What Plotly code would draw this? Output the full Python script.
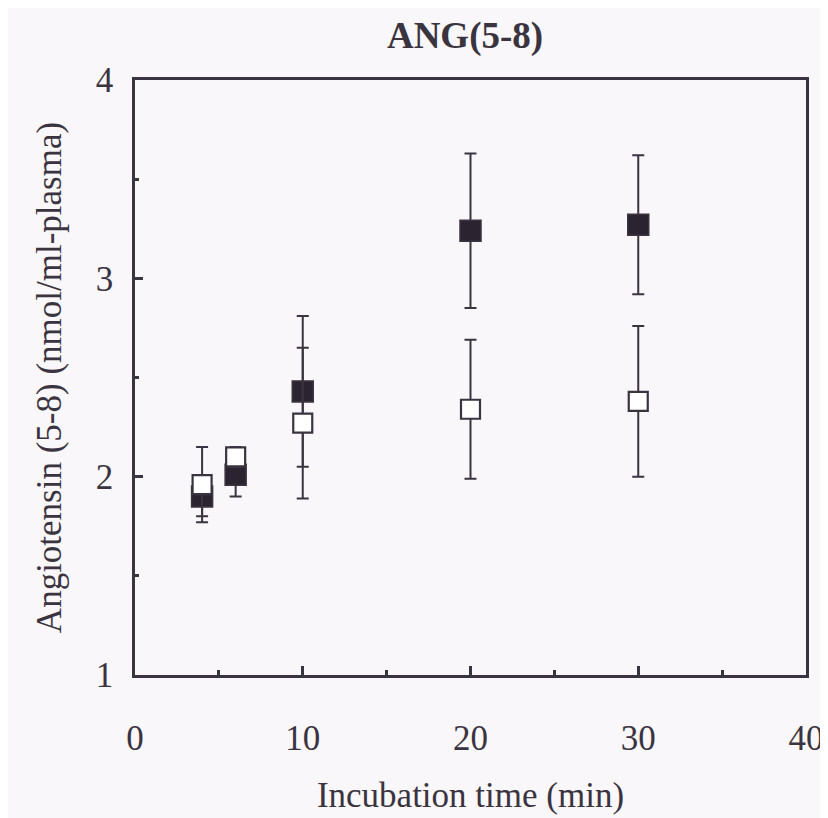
import plotly.graph_objects as go

# Data
time_min = [4, 6, 10, 20, 30]
filled_vals = [1.90, 2.01, 2.43, 3.24, 3.27]
filled_err = [0.10, 0.11, 0.38, 0.39, 0.35]
open_vals = [1.96, 2.10, 2.27, 2.34, 2.38]
open_err = [0.19, 0.05, 0.38, 0.35, 0.38]

x_tickvals = [0, 10, 20, 30, 40]
x_ticktext = ["0", "10", "20", "30", "40"]
y_tickvals = [1, 2, 3, 4]
y_ticktext = ["1", "2", "3", "4"]

INK = "#3a3440"
BG = "#f9f7f9"
FONT = '"Liberation Serif", "Times New Roman", Times, serif'

fig = go.Figure()

fig.add_trace(go.Scatter(
    x=time_min, y=filled_vals, mode="markers",
    marker=dict(symbol="square", size=21, color="#2b2430",
                line=dict(color=INK, width=1.5)),
    error_y=dict(type="data", array=filled_err, visible=True,
                 color=INK, thickness=2, width=6),
    showlegend=False, cliponaxis=False,
))
fig.add_trace(go.Scatter(
    x=time_min, y=open_vals, mode="markers",
    marker=dict(symbol="square", size=19, color="white",
                line=dict(color=INK, width=2.2)),
    error_y=dict(type="data", array=open_err, visible=True,
                 color=INK, thickness=2, width=6),
    showlegend=False, cliponaxis=False,
))

fig.update_layout(
    width=828, height=818,
    margin=dict(l=127, r=20, t=72, b=151),
    paper_bgcolor=BG, plot_bgcolor=BG,
    font=dict(family=FONT, color=INK, size=35),
    title=dict(text="<b>ANG(5-8)</b>", x=457 / 828, xref="container",
               y=1 - 27 / 818, yref="container", xanchor="center", yanchor="middle",
               font=dict(family=FONT, size=37, color=INK)),
)

fig.update_xaxes(
    range=[0, 40], tickmode="array", tickvals=x_tickvals, ticktext=x_ticktext,
    ticks="inside", ticklen=9, tickwidth=2.5, tickcolor=INK,
    minor=dict(tickmode="array", tickvals=[5, 15, 25, 35], ticks="inside",
               ticklen=5, tickwidth=2.5, tickcolor=INK),
    showline=True, linewidth=2.5, linecolor=INK, mirror=True,
    showgrid=False, zeroline=False,
    ticklabelstandoff=30,
    tickfont=dict(family=FONT, size=35, color=INK),
    title=dict(text="Incubation time (min)", standoff=26,
               font=dict(family=FONT, size=35, color=INK)),
)
fig.update_yaxes(
    range=[1, 4], tickmode="array", tickvals=y_tickvals, ticktext=y_ticktext,
    ticks="inside", ticklen=8, tickwidth=2.5, tickcolor=INK,
    minor=dict(tickmode="array", tickvals=[1.5, 2.5, 3.5], ticks="inside",
               ticklen=4, tickwidth=2.5, tickcolor=INK),
    showline=True, linewidth=2.5, linecolor=INK, mirror=True,
    showgrid=False, zeroline=False,
    ticklabelstandoff=12,
    tickfont=dict(family=FONT, size=35, color=INK),
    title=dict(text="Angiotensin (5-8) (nmol/ml-plasma)", standoff=24,
               font=dict(family=FONT, size=35, color=INK)),
)

fig.write_html("out.html")
